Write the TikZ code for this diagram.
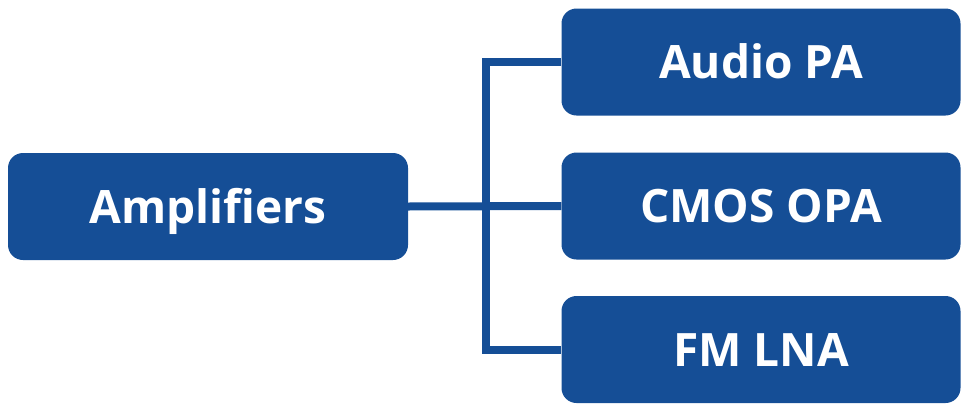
\documentclass[tikz,border=0pt]{standalone}
\usepackage{fontspec}
\setmainfont{Open Sans}
\usepackage{tikz}
\usetikzlibrary{positioning}
\definecolor{ampblue}{RGB}{21,78,150}
\tikzset{
  ampbox/.style={fill=ampblue, text=white, rounded corners=15pt, inner sep=0pt,
    minimum width=399pt, minimum height=107pt, text height=33pt, text depth=0pt,
    font=\fontsize{46}{50}\selectfont\bfseries},
  ampline/.style={draw=ampblue, line width=8pt}
}

\begin{document}
\begin{tikzpicture}[x=1pt,y=-1pt]
	\useasboundingbox (0,0) rectangle (961,410);
	\node[ampbox, minimum width=400pt] (amp) at (208,206.5) {Amplifiers};
	\node[ampbox] (audio) at (761,62) {Audio PA};
	\node[ampbox] (cmos) at (761,206) {CMOS OPA};
	\node[ampbox] (fm) at (761,349.5) {FM LNA};
	\coordinate (split) at (486,206);
	\draw[ampline] (amp.east) -- (cmos.west);
	\draw[ampline] (audio.west) -| (split) |- (fm.west);
\end{tikzpicture}
\end{document}
